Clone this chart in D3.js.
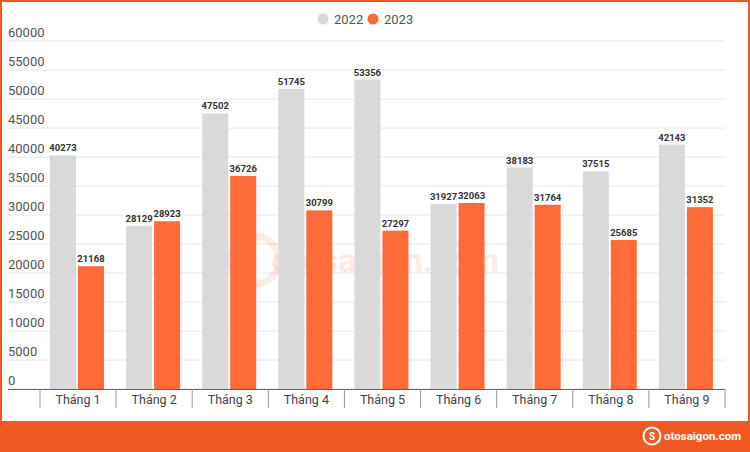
<!DOCTYPE html><html><head><meta charset="utf-8"><script src="https://cdn.jsdelivr.net/npm/d3@7"></script>
<style>body{margin:0}svg{display:block;font-family:Roboto,sans-serif}</style></head><body><svg width="750" height="452"></svg><script>
const categories=["Tháng 1","Tháng 2","Tháng 3","Tháng 4","Tháng 5","Tháng 6","Tháng 7","Tháng 8","Tháng 9"];
const s2022=[40273,28129,47502,51745,53356,31927,38183,37515,42143];
const s2023=[21168,28923,36726,30799,27297,32063,31764,25685,31352];
const yTicks=[0,5000,10000,15000,20000,25000,30000,35000,40000,45000,50000,55000,60000];
const svg=d3.select("svg");
const C1="#d9d9d9",C2="#ff6a39",OR="#f05a22";
svg.append("rect").attr("x",1).attr("y",1).attr("width",748).attr("height",450).attr("fill","#fff").attr("stroke",OR).attr("stroke-width",2);
svg.append("rect").attr("x",0).attr("y",421).attr("width",750).attr("height",31).attr("fill",OR);
const x=d3.scaleBand().domain(categories).range([40,725]);
const y=d3.scaleLinear().domain([0,60000]).range([389,41]);
svg.append("g").selectAll("line").data(yTicks).join("line").attr("x1",8).attr("x2",725).attr("y1",d=>y(d)).attr("y2",d=>y(d)).attr("stroke","#e6e6e6");
svg.append("g").selectAll("text").data(yTicks).join("text").attr("x",8).attr("y",d=>y(d)-4).text(d=>d).attr("font-size",13).attr("fill","#555");
svg.append("text").attr("x",385).attr("y",272).attr("text-anchor","middle").attr("font-size",34).attr("font-weight","bold").attr("fill","#f05a22").attr("opacity",0.12).text("otosaigon.com");
svg.append("circle").attr("cx",255).attr("cy",260).attr("r",24).attr("fill","none").attr("stroke","#f05a22").attr("stroke-width",7).attr("opacity",0.12);
const bw=26;
function bars(data,col,off){
 svg.append("g").selectAll("rect").data(data).join("rect").attr("x",(d,i)=>x(categories[i])+off).attr("width",bw).attr("y",d=>y(d)).attr("height",d=>389-y(d)).attr("fill",col);
 svg.append("g").selectAll("text").data(data).join("text").attr("x",(d,i)=>x(categories[i])+off+bw/2).attr("y",d=>y(d)-4).attr("text-anchor","middle").attr("font-size",9.5).attr("font-weight","bold").attr("fill","#333").text(d=>d);
}
bars(s2022,C1,10);bars(s2023,C2,38);
svg.append("line").attr("x1",8).attr("x2",725).attr("y1",389.5).attr("y2",389.5).attr("stroke","#666");
const ticks=categories.map(c=>x(c)).concat([725]);
svg.append("g").selectAll("line").data(ticks).join("line").attr("x1",d=>d).attr("x2",d=>d).attr("y1",389).attr("y2",408).attr("stroke","#999");
svg.append("g").selectAll("text").data(categories).join("text").attr("x",d=>x(d)+x.bandwidth()/2).attr("y",404).attr("text-anchor","middle").attr("font-size",12.5).attr("fill","#444").text(d=>d);
const lg=[["2022",C1,323],["2023",C2,373]];
lg.forEach(([t,c,cx])=>{svg.append("circle").attr("cx",cx).attr("cy",19).attr("r",5.5).attr("fill",c);
svg.append("text").attr("x",cx+11).attr("y",24).attr("font-size",13).attr("fill","#555").text(t);});
const g=svg.append("g");
g.append("circle").attr("cx",652).attr("cy",436).attr("r",8.5).attr("fill","none").attr("stroke","#fff").attr("stroke-width",2);
g.append("text").attr("x",652).attr("y",440).attr("text-anchor","middle").attr("font-size",10).attr("font-weight","bold").attr("fill","#fff").text("S");
g.append("text").attr("x",664).attr("y",440).attr("font-size",11.5).attr("font-weight","bold").attr("fill","#fff").text("otosaigon.com");
</script></body></html>
